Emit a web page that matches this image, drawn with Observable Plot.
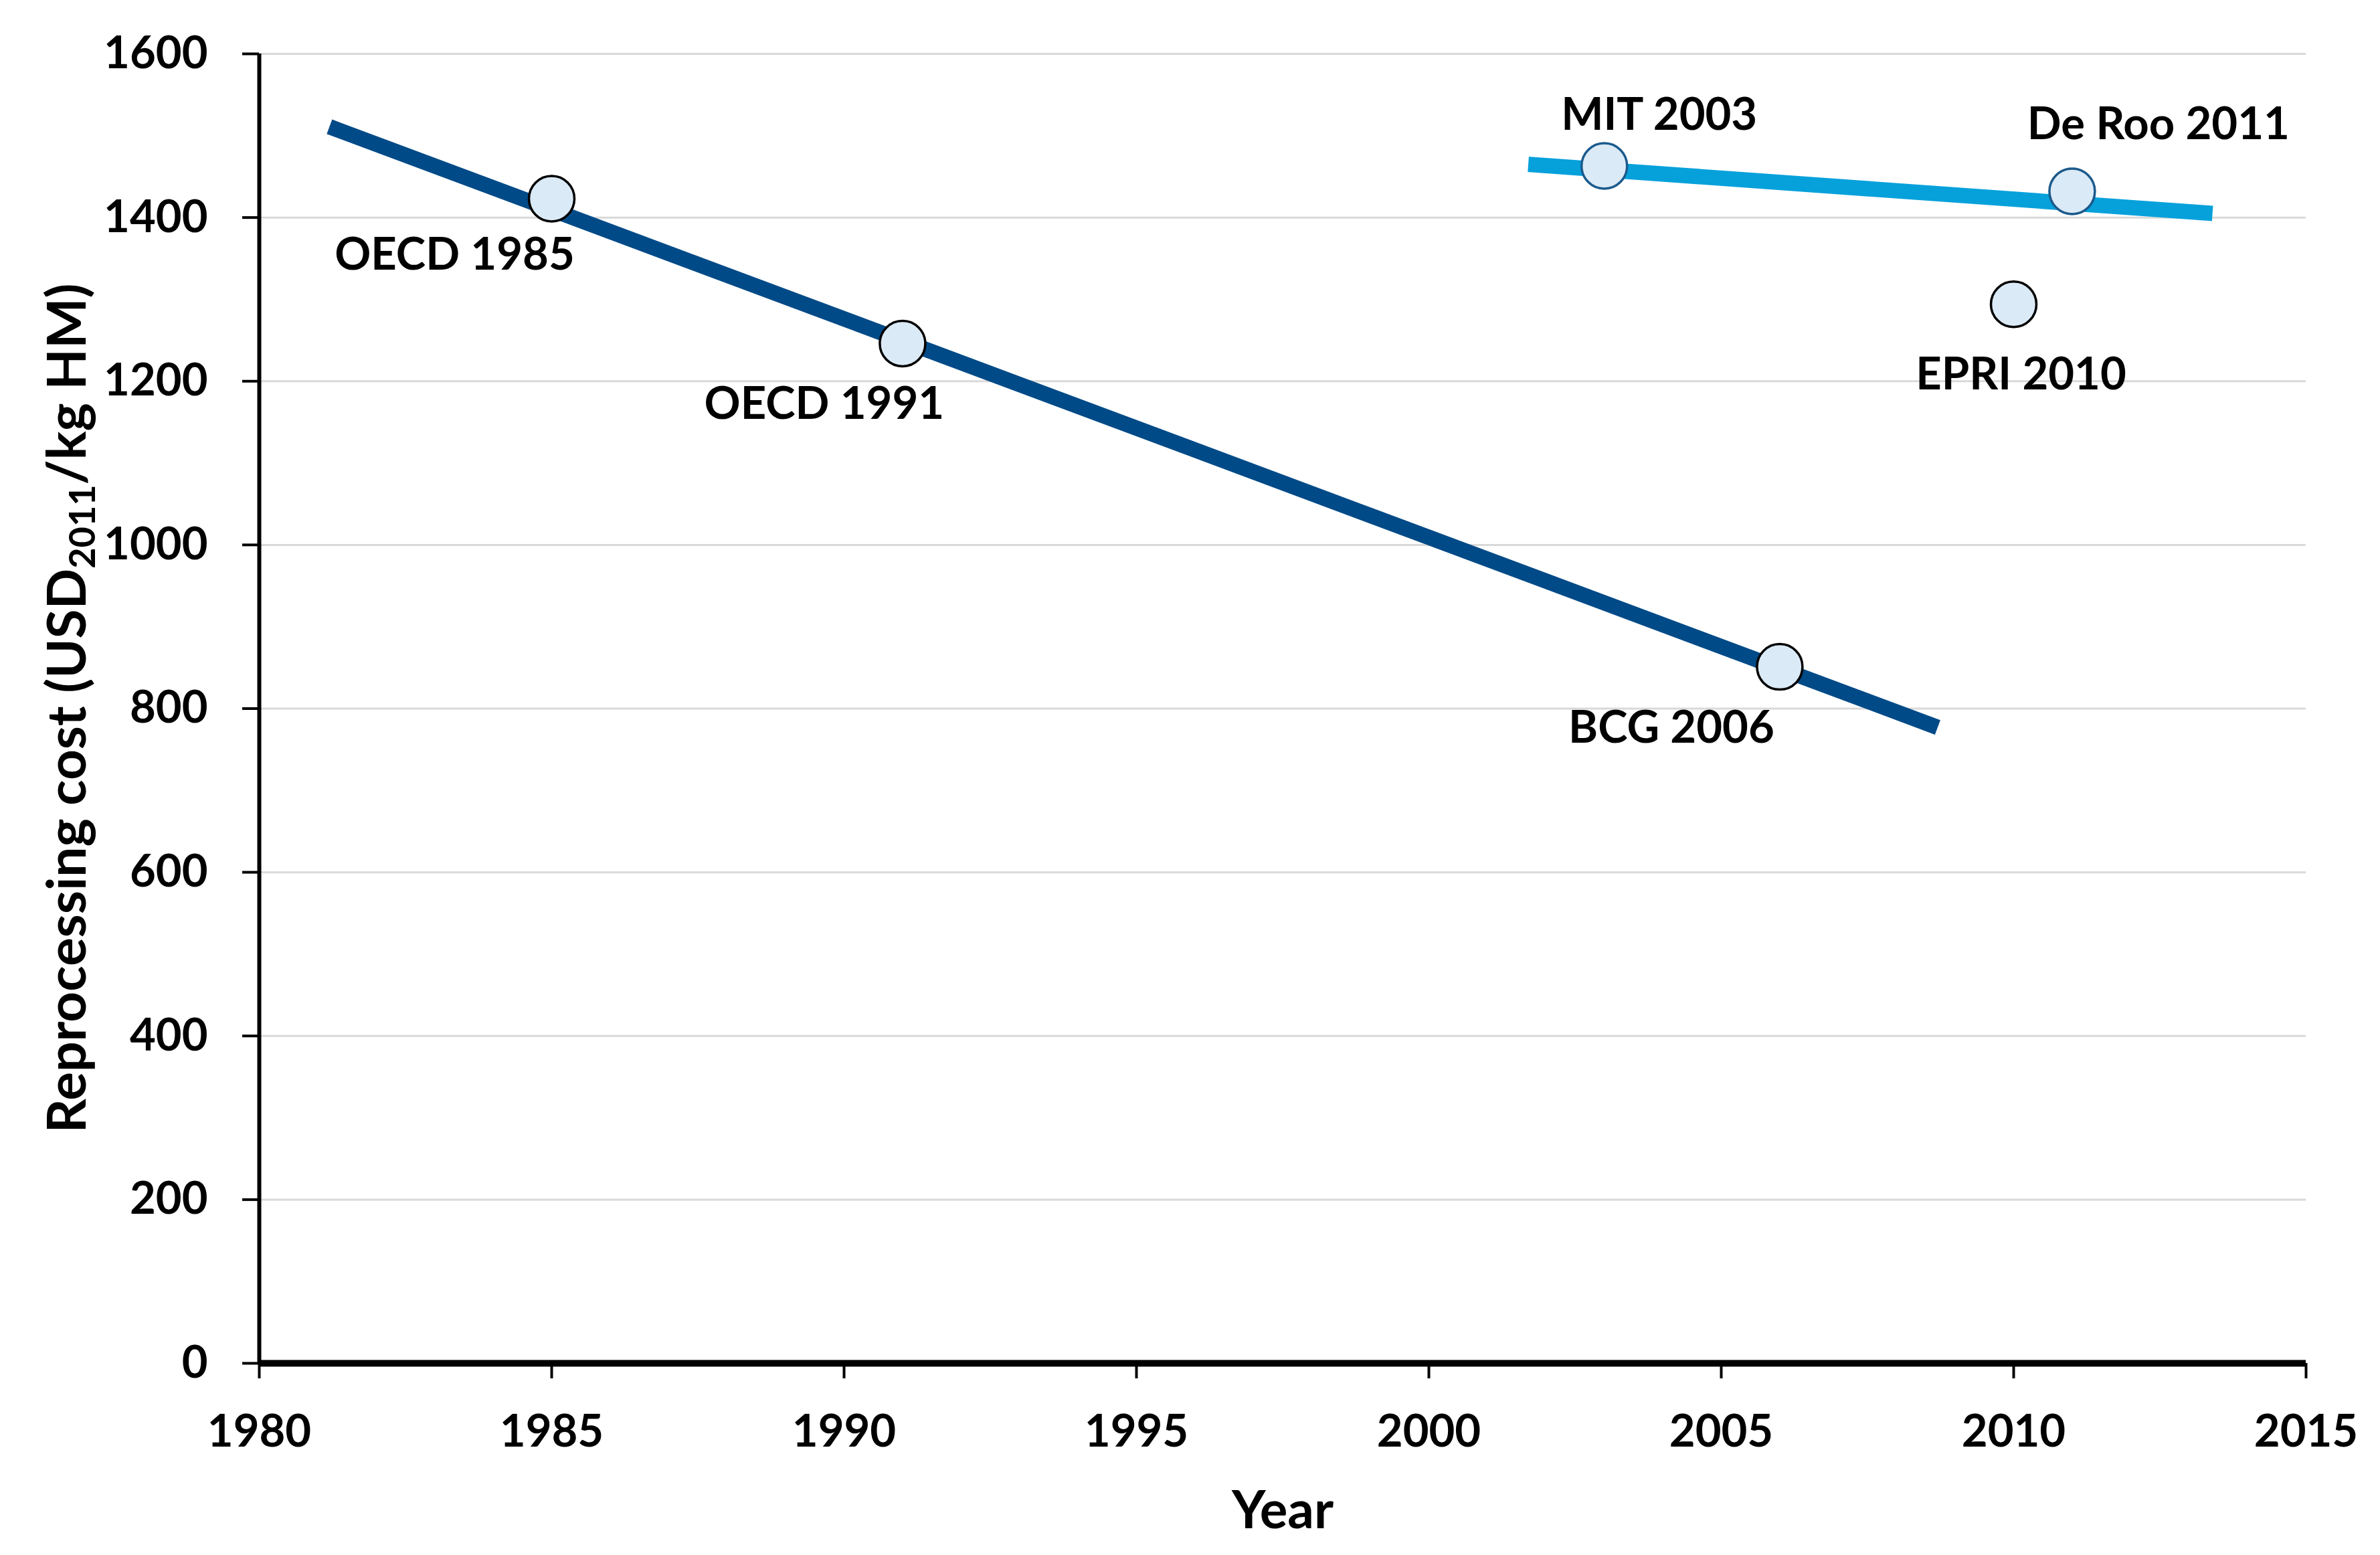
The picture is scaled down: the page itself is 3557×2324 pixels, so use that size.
<!DOCTYPE html>
<html>
<head>
<meta charset="utf-8">
<script src="https://cdn.jsdelivr.net/npm/d3@7"></script>
<script src="https://cdn.jsdelivr.net/npm/@observablehq/plot@0.6"></script>
<style>
  html, body { margin: 0; padding: 0; background: #fff; overflow: hidden; }
  #chart svg { display: block; }
</style>
</head>
<body>
<div id="chart"></div>
<script>
// ---- data ----
const studies = ["OECD 1985", "OECD 1991", "BCG 2006", "MIT 2003", "EPRI 2010", "De Roo 2011"];
const studyYears = [1985, 1991, 2006, 2003, 2010, 2011];
const studyCosts = [1423, 1246, 851, 1463, 1294, 1432];

// trend lines (endpoints as drawn)
const trendGroups = ["older", "older", "recent", "recent"];
const trendYears = [1981.2, 2008.7, 2001.7, 2013.4];
const trendCosts = [1511, 777, 1465, 1405];

const xTicks = [1980, 1985, 1990, 1995, 2000, 2005, 2010, 2015];
const yTicks = [0, 200, 400, 600, 800, 1000, 1200, 1400, 1600];

const xLabel = "Year";
const yLabelParts = ["Reprocessing cost (USD", "2011", "/kg HM)"];

// ---- tables built from the arrays ----
const points = studies.map((s, i) => ({study: s, year: studyYears[i], cost: studyCosts[i]}));
const trend = trendGroups.map((g, i) => ({group: g, year: trendYears[i], cost: trendCosts[i]}));

const W = 3557, H = 2324;
const FONT = "Lato, 'Open Sans', sans-serif";
const NAVY = "#004a87";
const SKY = "#06a1db";
const DOT_FILL = "#dbeaf7";
const onRecentLine = new Set(["MIT 2003", "De Roo 2011"]);

const labelOffsets = {
  "OECD 1985": [-145, 85],
  "OECD 1991": [-117, 91],
  "BCG 2006": [-162, 92],
  "MIT 2003": [82, -76],
  "De Roo 2011": [129, -99],
  "EPRI 2010": [11, 106]
};

const labelMarks = studies.map(s => Plot.text(points, {
  filter: d => d.study === s,
  x: "year", y: "cost", text: "study",
  dx: labelOffsets[s][0], dy: labelOffsets[s][1],
  fontSize: 67, fontWeight: "bold", fill: "#000",
  textAnchor: "middle", lineAnchor: "middle"
}));

const chart = Plot.plot({
  width: W,
  height: H,
  marginLeft: 387,
  marginRight: 111,
  marginTop: 80,
  marginBottom: 287,
  style: {fontFamily: FONT, fontWeight: "bold", fontSize: "67px", color: "#000", background: "#fff"},
  x: {domain: [1980, 2015], label: null},
  y: {domain: [0, 1600], label: null},
  marks: [
    Plot.gridY(yTicks.filter(t => t > 0), {stroke: "#d9d9d9", strokeOpacity: 1, strokeWidth: 3}),
    Plot.axisX(xTicks, {tickSize: 23, tickPadding: 54, strokeWidth: 4, tickFormat: d => String(d), label: null, fontSize: 67}),
    Plot.axisY(yTicks, {tickSize: 25, tickPadding: 52, strokeWidth: 4, tickFormat: d => String(d), label: null, fontSize: 67}),
    Plot.ruleX([1980], {stroke: "#000", strokeWidth: 6}),
    Plot.ruleY([0], {stroke: "#000", strokeWidth: 10}),
    Plot.line(trend, {filter: d => d.group === "older", x: "year", y: "cost", stroke: NAVY, strokeWidth: 23, strokeLinecap: "butt"}),
    Plot.line(trend, {filter: d => d.group === "recent", x: "year", y: "cost", stroke: SKY, strokeWidth: 23, strokeLinecap: "butt"}),
    Plot.dot(points, {filter: d => !onRecentLine.has(d.study), x: "year", y: "cost", r: 34, fill: DOT_FILL, fillOpacity: 1, stroke: "#000", strokeWidth: 3.5}),
    Plot.dot(points, {filter: d => onRecentLine.has(d.study), x: "year", y: "cost", r: 34, fill: DOT_FILL, fillOpacity: 1, stroke: "#1b5a8c", strokeWidth: 3.5}),
    ...labelMarks,
    Plot.text([xLabel], {frameAnchor: "bottom", dy: 222, text: d => d, fontSize: 78, fontWeight: "bold", fill: "#000", lineAnchor: "middle"})
  ]
});

// y-axis title with subscript (real text)
const svg = d3.select(chart);
const t = svg.append("text")
  .attr("transform", `translate(128,${(80 + 2037) / 2}) rotate(-90)`)
  .attr("text-anchor", "middle")
  .attr("font-family", FONT)
  .attr("font-weight", "bold")
  .attr("font-size", 80)
  .attr("fill", "#000");
t.append("tspan").text(yLabelParts[0]);
t.append("tspan").attr("font-size", 54).attr("dy", 14).text(yLabelParts[1]);
t.append("tspan").attr("dy", -14).text(yLabelParts[2]);

document.getElementById("chart").appendChild(chart);
</script>
</body>
</html>
